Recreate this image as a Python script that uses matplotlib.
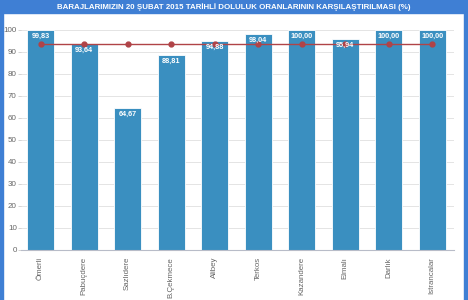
import matplotlib
matplotlib.use("Agg")
import matplotlib.pyplot as plt
from matplotlib.patches import Rectangle

plt.rcParams['font.family'] = ['Liberation Sans', 'DejaVu Sans']

barajlar = ["Ömerli", "Pabuçdere", "Sazlıdere", "B.Çekmece", "Alibey",
            "Terkos", "Kazandere", "Elmalı", "Darlık", "Istrancalar"]
doluluk = [99.83, 93.64, 64.67, 88.81, 94.88, 98.04, 100.00, 95.94, 100.00, 100.00]
ortalama = [93.58] * len(barajlar)
yticks = [0, 10, 20, 30, 40, 50, 60, 70, 80, 90, 100]
baslik = "BARAJLARIMIZIN 20 ŞUBAT 2015 TARİHLİ DOLULUK ORANLARININ KARŞILAŞTIRILMASI (%)"

fig = plt.figure(figsize=(4.68, 3.0), dpi=100)
ax = fig.add_axes([21 / 468, 50 / 300, 433 / 468, 220 / 300])

# frame: title band and side borders
fig.patches.append(Rectangle((0, 1 - 13 / 300), 1, 13 / 300, transform=fig.transFigure,
                             color="#3f7fd4", zorder=0))
fig.patches.append(Rectangle((0, 0), 2.5 / 468, 1, transform=fig.transFigure,
                             color="#3f7fd4", zorder=0))
fig.patches.append(Rectangle((1 - 4 / 468, 0), 4 / 468, 1, transform=fig.transFigure,
                             color="#3f7fd4", zorder=0))
fig.text(0.5, 1 - 7 / 300, baslik, ha="center", va="center", color="white",
         fontsize=5.7, fontweight="bold")

x = range(len(barajlar))
ax.bar(x, doluluk, width=0.62, color="#3a8fc0", edgecolor="white", linewidth=0.6, zorder=2)
ax.plot(x, ortalama, color="#b04347", lw=1.0, marker="o", ms=3.5, zorder=3)

for i, v in enumerate(doluluk):
    ax.text(i, v - 1.3, f"{v:.2f}".replace(".", ","), ha="center", va="top",
            color="white", fontsize=5.2, fontweight="bold", zorder=4)

ax.set_xlim(-0.45, 9.5)
ax.set_ylim(0, 100)
ax.set_yticks(yticks)
ax.set_xticks(list(x))
ax.set_xticklabels(barajlar, rotation=90, va="top", ha="center")
ax.tick_params(axis="y", labelsize=5.8, labelcolor="#666666", length=2, color="#cccccc",
               width=0.6, pad=1)
ax.tick_params(axis="x", labelsize=5.7, labelcolor="#666666", length=0, pad=5)
ax.grid(axis="y", color="#e4e4e4", lw=0.7, zorder=0)
for s in ["top", "right", "left"]:
    ax.spines[s].set_visible(False)
ax.spines["bottom"].set_color("#b8bcc8")
ax.spines["bottom"].set_linewidth(0.8)

fig.savefig("out.png", dpi=100)
